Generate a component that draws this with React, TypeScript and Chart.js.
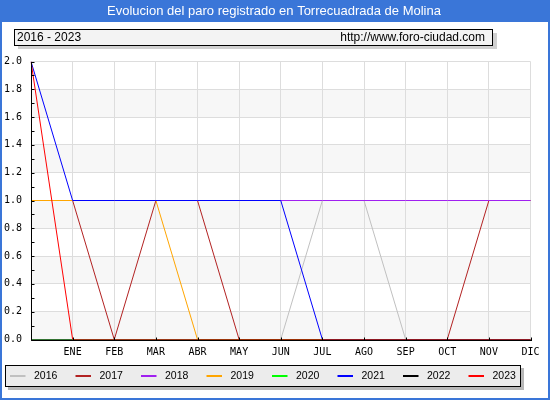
import { useEffect, useRef } from "react";
import { Chart, registerables } from "chart.js";

Chart.register(...registerables);

const TITLE = "Evolucion del paro registrado en Torrecuadrada de Molina";
const PERIOD = "2016 - 2023";
const SITE = "http://www.foro-ciudad.com";

// first slot has no label, then the months
const MONTHS = ["", "ENE", "FEB", "MAR", "ABR", "MAY", "JUN", "JUL", "AGO", "SEP", "OCT", "NOV", "DIC"];
const YEARS = ["2016", "2017", "2018", "2019", "2020", "2021", "2022", "2023"];
const COLORS = ["#c0c0c0", "#b22222", "#a020f0", "#ffa500", "#00ff00", "#0000ff", "#000000", "#ff0000"];

const v2016 = [0, 0, 0, 0, 0, 0, 0, 1, 1, 0, 0, 0, 0];
const v2017 = [1, 1, 0, 1, 1, 0, 0, 0, 0, 0, 0, 1, 1];
const v2018 = [1, 1, 1, 1, 1, 1, 1, 1, 1, 1, 1, 1, 1];
const v2019 = [1, 1, 1, 1, 0, 0, 0, 0, 0, 0, 0, 0, 0];
const v2020 = [0, 0, 0, 0, 0, 0, 0, 0, 0, 0, 0, 0, 0];
const v2021 = [2, 1, 1, 1, 1, 1, 1, 0, 0, 0, 0, 0, 0];
const v2022 = [0, 0, 0, 0, 0, 0, 0, 0, 0, 0, 0, 0, 0];
const v2023 = [2, 0, 0, 0, 0, 0, 0, 0, 0, 0, 0, 0, 0];

const SERIES = [v2016, v2017, v2018, v2019, v2020, v2021, v2022, v2023];

const BLUE = "#3a76d8";

const decor = {
  id: "decor",
  beforeDraw(chart: any) {
    const { ctx, width, scales } = chart;
    const area = chart.chartArea;
    ctx.save();
    ctx.fillStyle = "#ffffff";
    ctx.fillRect(0, 0, width, chart.height);

    // title bar
    ctx.fillStyle = BLUE;
    ctx.fillRect(0, 0, width, 22);
    ctx.fillStyle = "#ffffff";
    ctx.font = '13px "Liberation Sans"';
    ctx.textAlign = "center";
    ctx.textBaseline = "middle";
    ctx.fillText(TITLE, width / 2 - 1, 11.5);

    // period / site box
    ctx.fillStyle = "#d0d0d0";
    ctx.fillRect(18, 33, 479, 16);
    ctx.fillStyle = "#f3f3f3";
    ctx.fillRect(14.5, 29.5, 478, 16);
    ctx.strokeStyle = "#000000";
    ctx.lineWidth = 1;
    ctx.strokeRect(14.5, 29.5, 478, 16);
    ctx.fillStyle = "#000000";
    ctx.font = '12px "Liberation Sans"';
    ctx.textAlign = "left";
    ctx.fillText(PERIOD, 17, 38);
    ctx.textAlign = "right";
    ctx.fillText(SITE, 485, 38);

    // alternating bands
    const y = scales.y;
    const ticks = y.ticks;
    ctx.fillStyle = "#f7f7f7";
    for (let i = 0; i < ticks.length - 1; i += 2) {
      const top = y.getPixelForValue(ticks[i + 1].value);
      const bot = y.getPixelForValue(ticks[i].value);
      ctx.fillRect(area.left, top, area.right - area.left, bot - top);
    }

    // legend
    ctx.fillStyle = "#b8b8b8";
    ctx.fillRect(8, 368, 516, 22);
    ctx.fillStyle = "#ececec";
    ctx.fillRect(5.5, 365.5, 515, 21);
    ctx.strokeStyle = "#000000";
    ctx.strokeRect(5.5, 365.5, 515, 21);
    ctx.font = '10.5px "Liberation Sans"';
    ctx.textAlign = "left";
    chart.data.datasets.forEach((ds: any, i: number) => {
      const x0 = 10 + i * 65.5;
      ctx.strokeStyle = ds.borderColor;
      ctx.lineWidth = 2;
      ctx.beginPath();
      ctx.moveTo(x0, 376);
      ctx.lineTo(x0 + 15.5, 376);
      ctx.stroke();
      ctx.fillStyle = "#000000";
      ctx.fillText(ds.label, x0 + 24, 376.5);
    });
    ctx.restore();
  },
  afterDatasetsDraw(chart: any) {
    const { ctx, scales } = chart;
    const area = chart.chartArea;
    const x = scales.x;
    const y = scales.y;
    ctx.save();
    ctx.strokeStyle = "#000000";
    ctx.lineWidth = 1;
    ctx.beginPath();
    const l = Math.round(area.left) + 0.5;
    const b = Math.round(area.bottom) + 0.5;
    ctx.moveTo(l, Math.round(area.top));
    ctx.lineTo(l, b);
    ctx.lineTo(Math.round(area.right) + 1, b);
    // month ticks
    MONTHS.forEach((_, i) => {
      const px = Math.round(x.getPixelForValue(i)) + 0.5;
      ctx.moveTo(px, b);
      ctx.lineTo(px, b - 3);
    });
    // small ticks on the value axis
    for (let k = 0; k <= 20; k++) {
      const py = Math.round(y.getPixelForValue(k / 10)) + 0.5;
      ctx.moveTo(l, py);
      ctx.lineTo(l + 3, py);
    }
    ctx.stroke();
    ctx.restore();
  },
  afterDraw(chart: any) {
    const { ctx } = chart;
    ctx.save();
    ctx.strokeStyle = BLUE;
    ctx.lineWidth = 2;
    ctx.strokeRect(1, 1, chart.width - 2, chart.height - 2);
    ctx.restore();
  },
};

export default function App() {
  const ref = useRef<HTMLCanvasElement>(null);

  useEffect(() => {
    if (!ref.current) return;
    const chart = new Chart(ref.current, {
      type: "line",
      data: {
        labels: MONTHS,
        datasets: YEARS.map((year, i) => ({
          label: year,
          data: SERIES[i],
          borderColor: COLORS[i],
          backgroundColor: COLORS[i],
          borderWidth: 1,
          pointRadius: 0,
          tension: 0,
          fill: false,
          order: YEARS.length - i,
        })),
      },
      options: {
        animation: false,
        responsive: true,
        maintainAspectRatio: false,
        events: [],
        layout: { padding: { top: 61.5, right: 19.5, bottom: 40.5, left: 0 } },
        plugins: {
          legend: { display: false },
          tooltip: { enabled: false },
          title: { display: false },
        },
        scales: {
          x: {
            offset: false,
            grid: { color: "#dddddd", drawTicks: false },
            border: { display: false },
            ticks: {
              autoSkip: false,
              maxRotation: 0,
              padding: 7,
              color: "#000000",
              font: { family: "DejaVu Sans Mono", size: 10 },
            },
            afterFit: (scale: any) => {
              scale.height = 20;
            },
          },
          y: {
            min: 0,
            max: 2,
            grid: { color: "#dddddd", drawTicks: false },
            border: { display: false },
            ticks: {
              stepSize: 0.2,
              padding: 9,
              color: "#000000",
              font: { family: "DejaVu Sans Mono", size: 10 },
              callback: (v: any) => Number(v).toFixed(1),
            },
            afterFit: (scale: any) => {
              scale.width = 31;
            },
          },
        },
      },
      plugins: [decor],
    });
    return () => {
      chart.destroy();
    };
  }, []);

  return (
    <div style={{ position: "fixed", left: 0, top: 0, width: 550, height: 400 }}>
      <canvas ref={ref} />
    </div>
  );
}
